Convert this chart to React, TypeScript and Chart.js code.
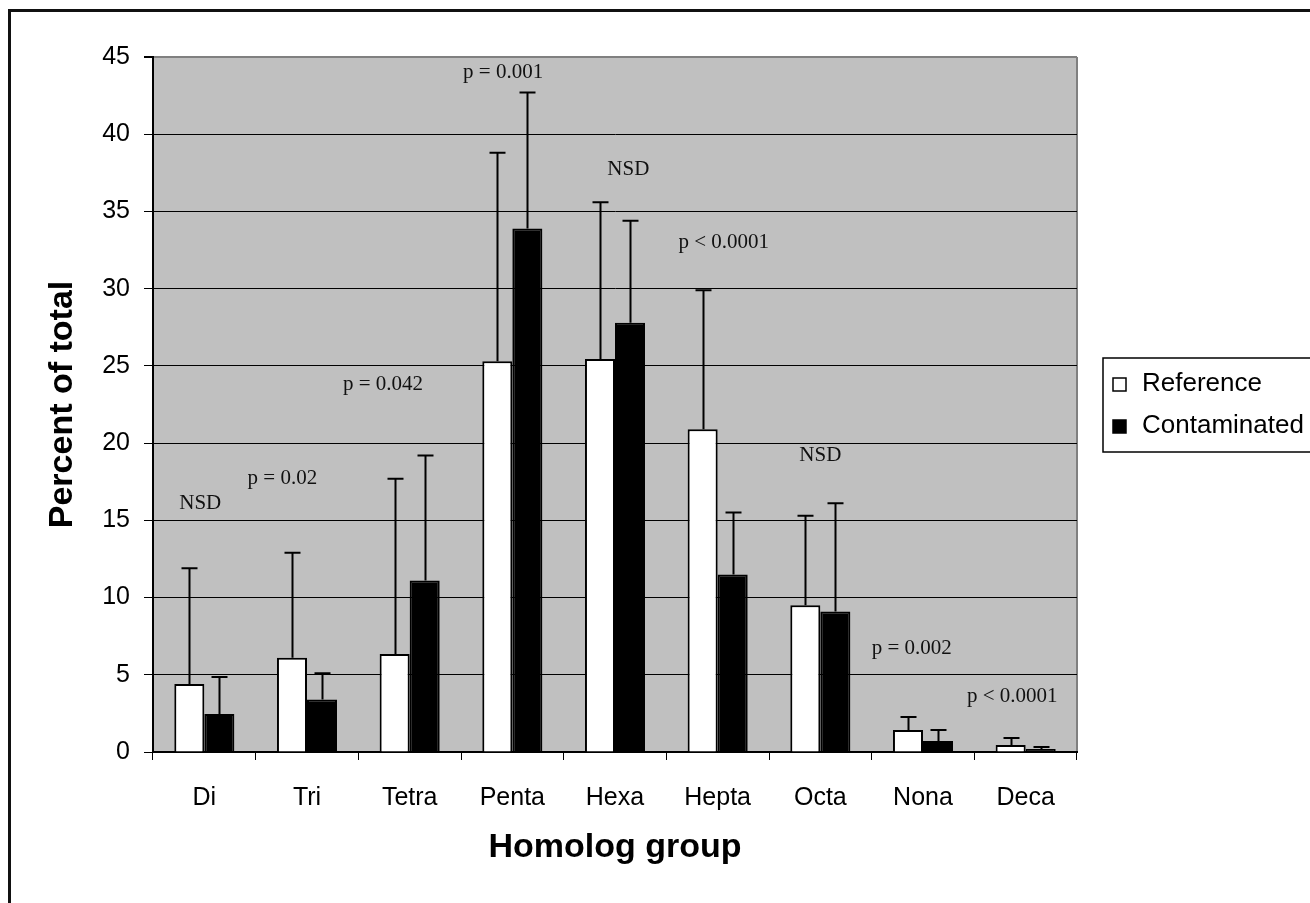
import React, { useEffect, useRef } from "react";
import { Chart, registerables } from "chart.js";

Chart.register(...registerables);

// Homolog groups and their mean share of the total (percent), with standard deviations
const groups = ["Di", "Tri", "Tetra", "Penta", "Hexa", "Hepta", "Octa", "Nona", "Deca"];
const referenceMeans = [4.4, 6.1, 6.35, 25.3, 25.45, 20.9, 9.5, 1.42, 0.45];
const referenceSD = [7.5, 6.8, 11.35, 13.5, 10.15, 9.0, 5.8, 0.85, 0.45];
const contaminatedMeans = [2.46, 3.4, 11.1, 33.9, 27.8, 11.5, 9.1, 0.71, 0.2];
const contaminatedSD = [2.4, 1.7, 8.1, 8.8, 6.6, 4.0, 7.0, 0.71, 0.12];

// Axis range
const yMin = 0;
const yMax = 45;
const yStep = 5;

// Significance notes: text, category position, value position
const noteTexts = ["NSD", "p = 0.02", "p = 0.042", "p = 0.001", "NSD", "p < 0.0001", "NSD", "p = 0.002", "p < 0.0001"];
const noteX = [-0.04, 0.76, 1.74, 2.91, 4.13, 5.06, 6.0, 6.89, 7.87];
const noteY = [16.1, 17.7, 23.8, 44.0, 37.7, 33.0, 19.2, 6.7, 3.6];

const W = 1310;
const H = 903;
const SANS = '"Liberation Sans", Arial, sans-serif';
const SERIF = '"Liberation Serif", "Times New Roman", serif';

const plotBackground = {
  id: "plotBackground",
  beforeDraw(chart: any) {
    const { ctx, chartArea: a } = chart;
    ctx.save();
    ctx.fillStyle = "#c0c0c0";
    ctx.fillRect(a.left, a.top, a.right - a.left, a.bottom - a.top);
    ctx.strokeStyle = "#808080";
    ctx.lineWidth = 2;
    ctx.beginPath();
    ctx.moveTo(a.right, a.top);
    ctx.lineTo(a.right, a.bottom);
    ctx.stroke();
    ctx.restore();
  },
};

const errorBars = {
  id: "errorBars",
  afterDatasetsDraw(chart: any) {
    const { ctx } = chart;
    const yScale = chart.scales.y;
    const sds = [referenceSD, contaminatedSD];
    ctx.save();
    ctx.strokeStyle = "#000";
    ctx.lineWidth = 2;
    chart.data.datasets.forEach((ds: any, di: number) => {
      const meta = chart.getDatasetMeta(di);
      meta.data.forEach((bar: any, i: number) => {
        const v = ds.data[i];
        const top = yScale.getPixelForValue(v + sds[di][i]);
        const x = Math.round(bar.x) + 0.5;
        ctx.beginPath();
        ctx.moveTo(x, bar.y);
        ctx.lineTo(x, top);
        ctx.moveTo(x - 8, top);
        ctx.lineTo(x + 8, top);
        ctx.stroke();
      });
    });
    ctx.restore();
  },
};

const notes = {
  id: "notes",
  afterDraw(chart: any) {
    const { ctx } = chart;
    const xs = chart.scales.x;
    const ys = chart.scales.y;
    ctx.save();
    ctx.font = `21px ${SERIF}`;
    ctx.fillStyle = "#111";
    ctx.textAlign = "center";
    ctx.textBaseline = "middle";
    noteTexts.forEach((t, i) => {
      ctx.fillText(t, xs.getPixelForValue(noteX[i]), ys.getPixelForValue(noteY[i]));
    });
    ctx.restore();
  },
};

const boxLegend = {
  id: "boxLegend",
  afterDraw(chart: any) {
    const { ctx, chartArea: a } = chart;
    const left = a.right + 26;
    const top = 358;
    ctx.save();
    ctx.strokeStyle = "#000";
    ctx.lineWidth = 1.5;
    ctx.strokeRect(left, top, 320, 94);
    ctx.font = `26px ${SANS}`;
    ctx.textBaseline = "middle";
    ctx.textAlign = "left";
    chart.data.datasets.forEach((ds: any, i: number) => {
      const cy = top + 26 + i * 42;
      ctx.fillStyle = ds.backgroundColor;
      ctx.fillRect(left + 10, cy - 6, 13, 13);
      ctx.strokeStyle = "#000";
      ctx.lineWidth = 1.5;
      ctx.strokeRect(left + 10, cy - 6, 13, 13);
      ctx.fillStyle = "#000";
      ctx.fillText(ds.label, left + 39, cy);
    });
    ctx.restore();
  },
};

const frame = {
  id: "frame",
  afterDraw(chart: any) {
    const { ctx } = chart;
    ctx.save();
    ctx.strokeStyle = "#111";
    ctx.lineWidth = 3;
    ctx.beginPath();
    ctx.moveTo(9.5, H);
    ctx.lineTo(9.5, 10.5);
    ctx.lineTo(W, 10.5);
    ctx.stroke();
    ctx.restore();
  },
};

export default function App() {
  const ref = useRef<HTMLCanvasElement>(null);

  useEffect(() => {
    if (!ref.current) return;
    const chart = new Chart(ref.current, {
      type: "bar",
      data: {
        labels: groups,
        datasets: [
          {
            label: "Reference",
            data: referenceMeans,
            backgroundColor: "#ffffff",
            borderColor: "#000000",
            borderWidth: 2,
          },
          {
            label: "Contaminated",
            data: contaminatedMeans,
            backgroundColor: "#000000",
            borderColor: "#000000",
            borderWidth: 2,
          },
        ],
      },
      options: {
        animation: false,
        responsive: false,
        devicePixelRatio: 1,
        layout: { padding: { left: 0, right: 233, top: 57, bottom: 0 } },
        datasets: { bar: { categoryPercentage: 0.585, barPercentage: 1 } },
        plugins: {
          legend: { display: false },
          tooltip: { enabled: false },
        },
        scales: {
          x: {
            afterFit: (s: any) => {
              s.height = 151;
            },
            grid: {
              drawOnChartArea: false,
              drawTicks: true,
              tickLength: 8,
              color: "#000",
              lineWidth: 1,
            },
            border: { display: true, color: "#000", width: 2 },
            ticks: {
              color: "#000",
              font: { size: 25, family: SANS },
              padding: 23,
              maxRotation: 0,
            },
            title: {
              display: true,
              text: "Homolog group",
              color: "#000",
              font: { size: 34, weight: "bold", family: SANS },
              padding: { top: 0, bottom: 35 },
            },
          },
          y: {
            min: yMin,
            max: yMax,
            afterFit: (s: any) => {
              s.width = 153;
            },
            grid: {
              color: (c: any) => (c.tick && c.tick.value === yMax ? "#808080" : "#000"),
              tickColor: "#000",
              lineWidth: (c: any) => (c.tick && c.tick.value === yMax ? 2 : 1),
              tickLength: 9,
            },
            border: { display: true, color: "#000", width: 2 },
            ticks: {
              stepSize: yStep,
              color: "#000",
              font: { size: 25, family: SANS },
              padding: 14,
            },
            title: {
              display: true,
              text: "Percent of total",
              color: "#000",
              font: { size: 34, weight: "bold", family: SANS },
              padding: { top: 42, bottom: 0 },
            },
          },
        },
      },
      plugins: [plotBackground, errorBars, notes, boxLegend, frame],
    });
    return () => chart.destroy();
  }, []);

  return (
    <div
      style={{
        position: "fixed",
        left: 0,
        top: 0,
        width: W,
        height: H,
        overflow: "hidden",
        background: "#fff",
      }}
    >
      <canvas ref={ref} width={W} height={H} style={{ display: "block", width: W, height: H }} />
    </div>
  );
}
